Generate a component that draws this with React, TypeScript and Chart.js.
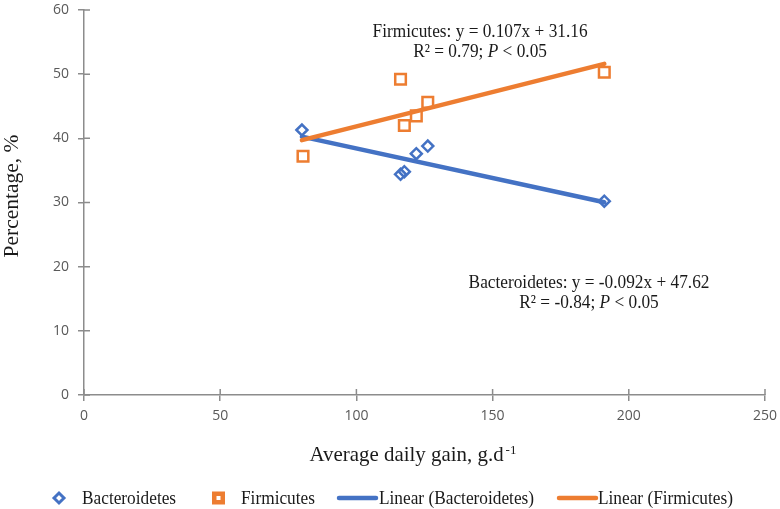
import React, { useEffect, useRef } from "react";
import { Chart, registerables } from "chart.js";

Chart.register(...registerables);

// Scatter data (average daily gain, g/d  vs  percentage, %)
const bacteroidetesX = [80, 116.2, 117.6, 122, 126.2, 191];
const bacteroidetesY = [41.3, 34.4, 34.8, 37.6, 38.8, 30.2];
const firmicutesX = [80.4, 116.2, 117.6, 122, 126.2, 191];
const firmicutesY = [37.2, 49.2, 42.0, 43.5, 45.6, 50.3];

// Trendline end points (as drawn)
const trendX = [80, 191];
const trendBacteroidetesY = [40.26, 30.05];
const trendFirmicutesY = [39.72, 51.6];

// Axis ticks
const xTicks = [0, 50, 100, 150, 200, 250];
const yTicks = [0, 10, 20, 30, 40, 50, 60];

// Texts
const xTitle = "Average daily gain, g.d";
const xTitleSup = "-1";
const yTitle = "Percentage, %";
const firmEqLine1 = "Firmicutes: y = 0.107x + 31.16";
const firmEqLine2 = ["R² = 0.79; ", "P", " < 0.05"];
const bacEqLine1 = "Bacteroidetes: y = -0.092x + 47.62";
const bacEqLine2 = ["R² = -0.84; ", "P", " < 0.05"];
const legendLabels = ["Bacteroidetes", "Firmicutes", "Linear (Bacteroidetes)", "Linear (Firmicutes)"];

const BLUE = "#4472C4";
const ORANGE = "#ED7D31";
const AXIS = "#8c8c8c";
const SERIF = "'Liberation Serif', 'DejaVu Serif', serif";
const TEXT = "#1a1a1a";

function drawSegments(
  ctx: CanvasRenderingContext2D,
  segs: { t: string; italic?: boolean }[],
  cx: number,
  baseline: number,
  size: number,
  sx: number
) {
  const widths = segs.map((s) => {
    ctx.font = `${s.italic ? "italic " : ""}${size}px ${SERIF}`;
    return ctx.measureText(s.t).width;
  });
  const total = widths.reduce((a, b) => a + b, 0) * sx;
  let x = cx - total / 2;
  segs.forEach((s, i) => {
    ctx.save();
    ctx.font = `${s.italic ? "italic " : ""}${size}px ${SERIF}`;
    ctx.translate(x, baseline);
    ctx.scale(sx, 1);
    ctx.textAlign = "left";
    ctx.textBaseline = "alphabetic";
    ctx.fillStyle = TEXT;
    ctx.fillText(s.t, 0, 0);
    ctx.restore();
    x += widths[i] * sx;
  });
}

function drawLeft(ctx: CanvasRenderingContext2D, t: string, x: number, baseline: number, size: number, sx: number) {
  ctx.save();
  ctx.font = `${size}px ${SERIF}`;
  ctx.translate(x, baseline);
  ctx.scale(sx, 1);
  ctx.textAlign = "left";
  ctx.textBaseline = "alphabetic";
  ctx.fillStyle = TEXT;
  ctx.fillText(t, 0, 0);
  ctx.restore();
}

// inner halves of the axis tick marks (ticks cross the axis line)
const innerTicksPlugin = {
  id: "innerTicks",
  beforeDatasetsDraw(chart: any) {
    const ctx: CanvasRenderingContext2D = chart.ctx;
    const xs = chart.scales.x;
    const ys = chart.scales.y;
    const area = chart.chartArea;
    ctx.save();
    ctx.strokeStyle = AXIS;
    ctx.lineWidth = 1.5;
    ctx.beginPath();
    xTicks.forEach((v) => {
      const px = xs.getPixelForValue(v);
      ctx.moveTo(px, area.bottom);
      ctx.lineTo(px, area.bottom - 6);
    });
    yTicks.forEach((v) => {
      const py = ys.getPixelForValue(v);
      ctx.moveTo(area.left, py);
      ctx.lineTo(area.left + 6, py);
    });
    ctx.stroke();
    ctx.restore();
  },
};

const overlayPlugin = {
  id: "overlay",
  afterDraw(chart: any) {
    const ctx: CanvasRenderingContext2D = chart.ctx;
    const xs = chart.scales.x;
    const ys = chart.scales.y;
    const SX = 0.91;
    const FS = 19;

    // Equation annotations (anchored in data space)
    const fx = xs.getPixelForValue(145.4);
    const fy = ys.getPixelForValue(55.8);
    drawSegments(ctx, [{ t: firmEqLine1 }], fx, fy, FS, SX);
    drawSegments(ctx, [{ t: firmEqLine2[0] }, { t: firmEqLine2[1], italic: true }, { t: firmEqLine2[2] }], fx, fy + 20, FS, SX);

    const bx = xs.getPixelForValue(185.4);
    const by = ys.getPixelForValue(16.7);
    drawSegments(ctx, [{ t: bacEqLine1 }], bx, by, FS, SX);
    drawSegments(ctx, [{ t: bacEqLine2[0] }, { t: bacEqLine2[1], italic: true }, { t: bacEqLine2[2] }], bx, by + 20, FS, SX);

    // Y axis title
    ctx.save();
    ctx.translate(12, 196);
    ctx.rotate(-Math.PI / 2);
    ctx.font = `21.5px ${SERIF}`;
    ctx.textAlign = "center";
    ctx.textBaseline = "middle";
    ctx.fillStyle = TEXT;
    ctx.fillText(yTitle, 0, 0);
    ctx.restore();

    // X axis title with superscript
    ctx.save();
    ctx.font = `22px ${SERIF}`;
    const mainW = ctx.measureText(xTitle).width * 0.95;
    ctx.font = `13px ${SERIF}`;
    const supW = ctx.measureText(xTitleSup).width;
    ctx.restore();
    const tcx = 413;
    const startX = tcx - (mainW + supW + 2) / 2;
    drawLeft(ctx, xTitle, startX, 461, 22, 0.95);
    drawLeft(ctx, xTitleSup, startX + mainW + 2, 454, 13, 1);

    // Legend
    const ly = 498;
    const lb = 504;
    // diamond
    ctx.save();
    ctx.beginPath();
    ctx.moveTo(59 - 5, ly);
    ctx.lineTo(59, ly - 5);
    ctx.lineTo(59 + 5, ly);
    ctx.lineTo(59, ly + 5);
    ctx.closePath();
    ctx.fillStyle = "#fff";
    ctx.fill();
    ctx.lineWidth = 3;
    ctx.strokeStyle = BLUE;
    ctx.stroke();
    ctx.restore();
    drawLeft(ctx, legendLabels[0], 82, lb, FS, SX);
    // square
    ctx.save();
    ctx.fillStyle = ORANGE;
    ctx.fillRect(212, ly - 6.5, 13, 13);
    ctx.fillStyle = "#fff";
    ctx.fillRect(216.5, ly - 2, 4, 4);
    ctx.restore();
    drawLeft(ctx, legendLabels[1], 241, lb, FS, SX);
    // lines
    ctx.save();
    ctx.lineCap = "round";
    ctx.lineWidth = 4.5;
    ctx.strokeStyle = BLUE;
    ctx.beginPath();
    ctx.moveTo(339, ly);
    ctx.lineTo(376, ly);
    ctx.stroke();
    ctx.strokeStyle = ORANGE;
    ctx.beginPath();
    ctx.moveTo(559, ly);
    ctx.lineTo(596, ly);
    ctx.stroke();
    ctx.restore();
    drawLeft(ctx, legendLabels[2], 379, lb, FS, SX);
    drawLeft(ctx, legendLabels[3], 598, lb, FS, SX);
  },
};

export default function App() {
  const canvasRef = useRef<HTMLCanvasElement | null>(null);

  useEffect(() => {
    if (!canvasRef.current) return;
    const pts = (xs: number[], ys: number[]) => xs.map((x, i) => ({ x, y: ys[i] }));
    const chart = new Chart(canvasRef.current, {
      type: "scatter",
      data: {
        datasets: [
          {
            label: "Linear (Firmicutes)",
            data: pts(trendX, trendFirmicutesY),
            showLine: true,
            borderColor: ORANGE,
            backgroundColor: ORANGE,
            borderWidth: 4.5,
            borderCapStyle: "round",
            pointRadius: 0,
          },
          {
            label: "Linear (Bacteroidetes)",
            data: pts(trendX, trendBacteroidetesY),
            showLine: true,
            borderColor: BLUE,
            backgroundColor: BLUE,
            borderWidth: 4.5,
            borderCapStyle: "round",
            pointRadius: 0,
          },
          {
            label: "Firmicutes",
            data: pts(firmicutesX, firmicutesY),
            pointStyle: "rect",
            pointRadius: 7.5,
            borderWidth: 2.5,
            borderColor: ORANGE,
            backgroundColor: "rgba(255,255,255,0)",
          },
          {
            label: "Bacteroidetes",
            data: pts(bacteroidetesX, bacteroidetesY),
            pointStyle: "rectRot",
            pointRadius: 5.5,
            borderWidth: 2.5,
            borderColor: BLUE,
            backgroundColor: "rgba(255,255,255,0)",
          },
        ] as any,
      },
      options: {
        animation: false,
        responsive: false,
        devicePixelRatio: 1,
        layout: { padding: { left: 0, top: 10, right: 15, bottom: 74 } },
        plugins: {
          legend: { display: false },
          tooltip: { enabled: false },
        },
        scales: {
          x: {
            type: "linear",
            min: 0,
            max: 250,
            afterFit: (s: any) => {
              s.height = 40;
              s.paddingLeft = 0;
              s.paddingRight = 0;
            },
            afterBuildTicks: (s: any) => {
              s.ticks = xTicks.map((v) => ({ value: v }));
            },
            border: { color: AXIS, width: 1.5 },
            grid: { drawOnChartArea: false, drawTicks: true, tickLength: 6, color: AXIS, lineWidth: 1.5 },
            ticks: {
              padding: 7,
              color: "#595959",
              font: { family: "'Open Sans', sans-serif", size: 14 },
              maxRotation: 0,
            },
          },
          y: {
            type: "linear",
            min: 0,
            max: 60,
            afterFit: (s: any) => {
              s.width = 84;
              s.paddingTop = 0;
              s.paddingBottom = 0;
            },
            afterBuildTicks: (s: any) => {
              s.ticks = yTicks.map((v) => ({ value: v }));
            },
            border: { color: AXIS, width: 1.5 },
            grid: { drawOnChartArea: false, drawTicks: true, tickLength: 6, color: AXIS, lineWidth: 1.5 },
            ticks: {
              padding: 9,
              color: "#595959",
              font: { family: "'Open Sans', sans-serif", size: 14 },
            },
          },
        },
      },
      plugins: [innerTicksPlugin, overlayPlugin],
    });
    return () => chart.destroy();
  }, []);

  return (
    <div style={{ position: "absolute", left: 0, top: 0, width: 780, height: 509, background: "#fff" }}>
      <canvas ref={canvasRef} width={780} height={509} style={{ display: "block", width: 780, height: 509 }} />
    </div>
  );
}
